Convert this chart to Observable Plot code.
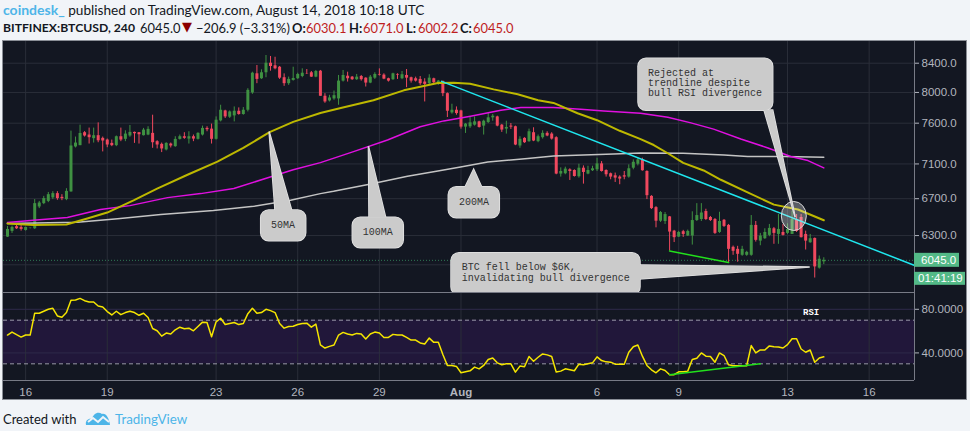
<!doctype html>
<html><head><meta charset="utf-8">
<script src="https://cdn.jsdelivr.net/npm/d3@7"></script>
<script src="https://cdn.jsdelivr.net/npm/@observablehq/plot@0.6"></script>
<style>
html,body{margin:0;padding:0;background:#f1f4f8;width:970px;height:431px;overflow:hidden}
body{font-family:Lato,"Open Sans",sans-serif;color:#131722;position:relative}
.line{position:absolute;left:3px;white-space:nowrap;font-size:13.65px;line-height:18px}
#l1{top:1px}#l2{top:19px;left:0;width:600px;height:18px;font-size:12.9px}
#l2 span{position:absolute;top:0}
#l1 .who{color:#4db5e8;font-weight:700;font-size:14px}
.b{font-weight:700}
#l2 .first{font-size:12.2px}
.red{color:#bf1e1e}
#l2 .tri{color:#8b0000;font-family:"DejaVu Sans";font-size:13px;top:-1px}
#panel{position:absolute;left:3px;top:41px;width:963px;height:358px;background:#131722;outline:1px solid #8a8e96}
#panel svg{display:block}
#foot{position:absolute;left:3px;top:410px;font-size:13px;line-height:18px;white-space:nowrap}
#foot .tv{position:absolute;left:112px;top:0;color:#4db5e8;font-size:13.4px}
#foot svg{position:absolute;left:82px;top:1px}
</style></head><body>
<div id="l1" class="line"><span class="who">coindesk_</span> published on TradingView.com, August 14, 2018 10:18 UTC</div>
<div id="l2" class="line"><span class="b first" style="left:3px">BITFINEX:BTCUSD, 240</span><span style="left:140px">6045.0</span><span class="tri" style="left:182px">▼</span><span style="left:196px">−206.9 (−3.31%)</span><span class="b" style="left:292px">O:</span><span class="red" style="left:306px">6030.1</span><span class="b" style="left:349px">H:</span><span class="red" style="left:363px">6071.0</span><span class="b" style="left:406px">L:</span><span class="red" style="left:418px">6002.2</span><span class="b" style="left:460px">C:</span><span class="red" style="left:473px">6045.0</span></div>
<div id="panel"></div>
<div id="foot">Created with
<svg width="26" height="16" viewBox="0 0 26 16"><path d="M1 14 C0 9 4 7 7 8 C8 3 13 0 17 3 C21 2 24 7 25 14 Z" fill="#4db5e8"/><path d="M3 11 L8 7 L13 11 L18 6 L24 11" fill="none" stroke="#f1f4f8" stroke-width="2"/></svg>
<span class="tv">TradingView</span></div>
<script>
// Candles, one per 4 hours, 15 Jul 08:00 to 14 Aug 08:00 UTC
const opens = [
6284,6344,6394,6386,6354,6375,6372,6608,6645,6670,
6709,6757,6715,6690,6776,7304,7320,7480,7451,7406,
7443,7410,7389,7348,7320,7430,7398,7439,7484,7480,
7443,7451,7472,7369,7336,7268,7340,7308,7397,7430,
7401,7430,7398,7451,7534,7525,7398,7629,7757,7676,
7693,7753,7711,7766,7993,8253,8185,8267,8400,8364,
8344,8199,8118,8162,8185,8216,8257,8267,8207,8289,
7949,7887,7914,7914,8153,8220,8207,8172,8216,8193,
8126,8193,8244,8235,8185,8172,8244,8185,8230,8199,
8185,8176,8140,8118,8185,8118,8149,7984,7731,7766,
7757,7550,7554,7575,7617,7563,7609,7668,7680,7575,
7525,7563,7555,7316,7410,7369,7480,7369,7418,7472,
7463,7418,6981,6985,7031,7023,6950,7050,6981,7020,
7031,7101,7023,6985,6961,6946,6961,6946,7050,7097,
7148,7011,6726,6601,6453,6450,6500,6347,6284,6341,
6295,6295,6460,6471,6558,6493,6471,6333,6463,6408,
6178,6157,6096,6096,6096,6408,6242,6267,6302,6372,
6312,6333,6323,6312,6471,6493,6312,6225,6270,5967,
6030];
const highs = [
6397,6400,6418,6418,6389,6380,6690,6670,6726,6770,
6779,6779,6745,6813,7500,7426,7575,7494,7538,7538,
7604,7426,7401,7389,7439,7538,7504,7571,7488,7482,
7534,7555,7702,7381,7352,7356,7352,7430,7451,7480,
7492,7451,7480,7563,7555,7588,7680,7831,7766,7757,
7809,7796,7801,8050,8275,8368,8308,8509,8495,8484,
8354,8252,8208,8344,8261,8322,8312,8285,8299,8299,
7984,7962,8019,8230,8299,8275,8216,8244,8230,8199,
8230,8267,8321,8253,8193,8261,8253,8285,8312,8207,
8207,8216,8185,8240,8193,8162,8153,7993,7844,7809,
7766,7596,7672,7680,7625,7638,7723,7711,7689,7584,
7625,7596,7563,7430,7418,7525,7542,7451,7504,7492,
7480,7430,7054,7062,7043,7031,7097,7077,7073,7073,
7168,7128,7031,6993,6993,6961,7011,7089,7148,7168,
7168,7020,6734,6612,6558,6547,6504,6355,6344,6355,
6358,6555,6645,6645,6583,6504,6482,6550,6471,6418,
6191,6188,6188,6137,6514,6450,6323,6372,6418,6386,
6525,6418,6425,6561,6525,6525,6347,6312,6275,6089,
6071];
const lows = [
6281,6323,6365,6347,6347,6370,6365,6590,6634,6656,
6690,6682,6678,6678,6773,7292,7320,7426,7340,7352,
7356,7244,7295,7308,7308,7369,7369,7423,7348,7340,
7439,7443,7288,7280,7236,7256,7292,7300,7389,7398,
7340,7369,7389,7439,7492,7340,7389,7616,7660,7660,
7616,7702,7702,7744,7975,8118,8176,8199,8289,8308,
8176,8082,8095,8153,8176,8199,8244,8203,8199,7949,
7857,7874,7896,7831,8140,8140,8162,8162,8153,8073,
8118,8176,8222,8172,8140,8162,8176,8172,8064,8126,
8140,8095,7874,8105,8118,8095,7944,7672,7715,7702,
7525,7471,7534,7563,7538,7451,7596,7625,7554,7484,
7463,7521,7320,7288,7348,7361,7369,7356,7401,7430,
7389,6973,6946,6973,6907,6946,6934,6865,6973,7011,
7011,7004,6946,6915,6884,6858,6915,6934,7031,7077,
7015,6690,6580,6382,6440,6418,6140,6227,6281,6281,
6291,6201,6450,6450,6460,6450,6312,6323,6386,6023,
6096,6026,6086,6086,6086,6232,6194,6260,6288,6209,
6209,6295,6312,6312,6333,6275,6150,6219,5869,5957,
6002];
const closes = [
6365,6386,6372,6365,6386,6378,6645,6652,6701,6745,
6757,6701,6701,6782,7316,7352,7470,7439,7418,7443,
7380,7377,7328,7320,7430,7389,7463,7484,7467,7455,
7513,7522,7356,7328,7280,7348,7316,7397,7430,7410,
7430,7401,7472,7534,7517,7398,7638,7766,7680,7744,
7753,7711,7766,8028,8261,8176,8267,8400,8354,8322,
8193,8118,8176,8189,8244,8261,8253,8207,8285,7949,
7874,7927,7957,8153,8230,8185,8172,8207,8172,8126,
8207,8244,8235,8180,8153,8253,8235,8240,8193,8153,
8153,8118,8108,8193,8131,8153,7984,7753,7766,7723,
7550,7588,7604,7617,7546,7625,7668,7689,7563,7513,
7546,7550,7328,7398,7356,7492,7377,7430,7472,7439,
7401,6981,7011,7039,7011,6953,7050,7000,7023,7043,
7101,7011,6973,6946,6934,6923,6946,7043,7120,7148,
7020,6734,6590,6453,6547,6525,6337,6278,6333,6312,
6344,6460,6514,6542,6471,6460,6323,6450,6397,6157,
6137,6106,6157,6126,6408,6250,6295,6333,6376,6323,
6365,6302,6365,6471,6344,6278,6242,6267,5979,6056,
6045];
const rsiValues = [
56.4,59.1,56.7,54.5,56.4,56.4,76.4,76.4,78.2,80,
80.9,73.9,72.7,77,88.2,88.5,90,87.9,86.7,86.7,
83,82.1,77.9,74.8,78.2,75.1,77,78.2,77,74.5,
76.4,72.4,62.4,60.3,55.4,58.2,57.3,61.2,63.6,62.1,
62.7,60.3,64.2,68.2,67.9,54.8,68.5,71.8,66,67,
67.9,66,67,76,80.9,76.4,77,80,78.8,77,
67,62.7,64.2,64.5,66,67,67.3,63.6,66.4,47.3,
44.5,46,47.3,56.4,58.8,57.3,56.4,57.9,57.3,52.7,
57.3,59.1,58.2,54.2,54.2,57,56.4,56.4,54.2,51.8,
51.8,49.1,48.2,53.6,49.7,49.7,38.5,28.5,28.5,27.6,
21.8,22.7,23.6,27,25.4,28.5,33.9,35.4,30.9,29.1,
30,30,22.4,27.9,27.3,36.7,32.4,36,39.1,38.2,
36.7,22.4,23.3,25.4,24.5,23.6,29.7,29.1,30,30.9,
36.4,33,31.8,31.5,29.7,29.7,29.7,40.6,45.7,47.3,
37,28.5,24.5,21.8,25.4,23.9,20,20,22.7,22.7,
23.3,33.9,35.1,40,37,36.7,31.5,40,37.6,29.1,
28.2,28.2,28.2,28.2,46.7,40,42.7,42.7,46.4,45.7,
45.4,44.5,47.6,53,53,43.6,40.6,42.7,31.5,35.4,
36.4];

// Moving averages, read at the candle numbers listed
const ma50At = [0,5.7,13,17.6,22,27.8,33,39.7,46.3,52,57.8,63,69,73.5,80.7,87.4,94.9,98.4,102,107.2,112.5,117,120.4,125.7,130,135,139.6,142.5,145.6,149,153.5,157.3,163.2,169,174.3,180];
const ma50Values = [6429,6411,6418,6482,6547,6682,6813,6973,7128,7292,7488,7617,7731,7796,7896,8028,8126,8131,8118,8041,7975,7896,7861,7727,7638,7504,7401,7328,7228,7113,7023,6915,6771,6634,6580,6463];
const ma100At = [0,5.7,13.2,20.5,27,35.3,42.6,49.9,57.4,63,69,76.3,83.8,91,96.2,102.1,108.8,113.2,120.4,126.4,131.5,139.6,145.6,150.7,155.7,161.7,167.7,172.7,176.5,180];
const ma100Values = [6439,6463,6493,6580,6623,6712,6757,6816,6938,7031,7116,7248,7389,7554,7629,7689,7766,7801,7801,7779,7757,7727,7676,7604,7525,7401,7292,7188,7140,7054];
const ma200At = [0,15.4,24.3,33.8,45.4,54.3,62.4,69,71.9,80.1,88.2,94.9,99.9,105.9,114.7,120.4,127,133.7,139.6,149,158,163.2,171.2,180];
const ma200Values = [6429,6443,6479,6525,6569,6616,6682,6757,6783,6867,6957,7016,7064,7124,7165,7196,7208,7220,7232,7228,7208,7188,7188,7181];

// Drawn trendlines
const trendAt = [95.7,199.9], trendPrices = [8149,5996];
const supportAt = [146,159], supportPrices = [6140,6023];
const rsiSupportAt = [146,166], rsiSupportValues = [20,30];

// Axes
const dayTicks = [4,22,46,64,82,130,148,172,190];
const dayLabels = ["16","19","23","26","29","6","9","13","16"];
const monthTicks = [100], monthLabels = ["Aug"];
const priceTicks = [8400,8000,7600,7100,6700,6300];
const priceGridExtra = [6000];
const rsiTicks = [80,40];
const lastPrice = 6045;
const countdown = "01:41:19";

// Annotations: text, and the chart point each pointer marks
const calloutLines = [["50MA"],["100MA"],["200MA"],["Rejected at","trendline despite","bull RSI divergence"],["BTC fell below $6K,","invalidating bull divergence"]];
const calloutTipAt = [57.8,79.7,102.9,173.8,177];
const calloutTipPrice = [7488,7308,7031,6490,5974];
const circleAt = 173.5, circlePrice = 6504;

// Layout of the annotation boxes (pixels within the panel)
const calloutLayout = [
 {box:[257.7,169,45,30.7], base:[[272,169.3],[288.7,169.3]], tx:280, ty:[186.5], anchor:"middle"},
 {box:[349.3,176.3,51,30.4], base:[[366,176.6],[382.7,176.6]], tx:374.7, ty:[193.5], anchor:"middle"},
 {box:[445.3,145.7,51,31], base:[[462,146],[478.7,146]], tx:471, ty:[163.5], anchor:"middle"},
 {box:[635,17.3,134.7,52], base:[[761,69],[769.7,69]], tx:645, ty:[35,45,55], anchor:"start"},
 {box:[448,211.7,189,42], base:[[636.5,224],[636.5,238]], tx:458.7, ty:[229,239.7], anchor:"start"}
];

const bg="#131722", grid="#2a2e39", axisText="#b2b5be", edge="#787b86";
const xDomain = [-0.88,200];
const candles = opens.map((open,i)=>({i,open,high:highs[i],low:lows[i],close:closes[i]}));
const candleColor = d => d.close>=d.open ? "#3f9142" : "#f0485e";
const series = (at,vals)=>at.map((i,k)=>({i,v:vals[k]}));
const sharedStyle = {background:bg,fontFamily:"'Liberation Sans',Arial,sans-serif",fontSize:"11.5px"};
const axisFont = {fontSize:11.5,color:axisText};

function annotations(index,scales){
  const g = d3.create("svg:g");
  const {x,y} = scales;
  g.append("ellipse").attr("cx",x(circleAt)).attr("cy",y(circlePrice)).attr("rx",12.5).attr("ry",14.5)
    .attr("fill","#ffffff").attr("fill-opacity",.3).attr("stroke","#d8d8d8").attr("stroke-width",1);
  calloutLayout.forEach((c,k)=>{
    const tip=[x(calloutTipAt[k]),y(calloutTipPrice[k])];
    const poly=[c.base[0],tip,c.base[1]].map(p=>p.join(",")).join(" ");
    const [bx,by,bw,bh]=c.box;
    for(const pass of [0,1]){
      const sw = pass?0:1.5, col = "#cbcbcb";
      const stroke = pass?"none":"#e4e4e4";
      g.append("rect").attr("x",bx).attr("y",by).attr("width",bw).attr("height",bh).attr("rx",8)
        .attr("fill",col).attr("stroke",stroke).attr("stroke-width",sw);
      g.append("polygon").attr("points",poly).attr("fill",col).attr("stroke",stroke).attr("stroke-width",sw);
    }
    calloutLines[k].forEach((t,n)=>{
      g.append("text").attr("x",c.tx).attr("y",c.ty[n]).attr("text-anchor",c.anchor)
        .attr("font-family","'Liberation Mono','DejaVu Sans Mono',monospace").attr("font-size",10)
        .attr("fill","#333333").text(t);
    });
  });
  // last price and countdown tags in the right axis
  const right = x(xDomain[1]), py = y(lastPrice);
  g.append("rect").attr("x",right).attr("y",py-7).attr("width",45).attr("height",14).attr("fill","#53b987");
  g.append("rect").attr("x",right).attr("y",py+12).attr("width",51).attr("height",13).attr("fill","#53b987");
  g.append("text").attr("x",right+7).attr("y",py+4).attr("text-anchor","start").attr("fill","#fff").attr("font-size",11.5).text(lastPrice.toFixed(1));
  g.append("text").attr("x",right+4).attr("y",py+22.5).attr("text-anchor","start").attr("fill","#fff").attr("font-size",11.5).text(countdown);
  return g.node();
}

const main = Plot.plot({
  width:963,height:251,marginTop:0,marginBottom:0,marginLeft:0,marginRight:52,
  style:sharedStyle,
  x:{domain:xDomain,axis:null},
  y:{type:"log",domain:[5729,8710],axis:null},
  marks:[
    Plot.gridX([...dayTicks,...monthTicks],{stroke:grid,strokeOpacity:1}),
    Plot.gridY([...priceTicks,...priceGridExtra],{stroke:grid,strokeOpacity:1}),
    Plot.ruleY([lastPrice],{stroke:"#2f7a55",strokeDasharray:"1,2"}),
    Plot.ruleX(candles,{x:"i",y1:"low",y2:"high",stroke:candleColor,strokeWidth:1}),
    Plot.ruleX(candles,{x:"i",y1:"open",y2:"close",stroke:candleColor,strokeWidth:3}),
    Plot.line(series(ma200At,ma200Values),{x:"i",y:"v",stroke:"#c4c4c4",strokeWidth:1.5}),
    Plot.line(series(ma100At,ma100Values),{x:"i",y:"v",stroke:"#e010e0",strokeWidth:1.5}),
    Plot.line(series(ma50At,ma50Values),{x:"i",y:"v",stroke:"#bdb800",strokeWidth:2}),
    Plot.line(series(trendAt,trendPrices),{x:"i",y:"v",stroke:"#1fe6ee",strokeWidth:1.5}),
    Plot.line(series(supportAt,supportPrices),{x:"i",y:"v",stroke:"#22e01c",strokeWidth:1.5}),
    Plot.ruleX([xDomain[1]],{stroke:edge}),
    Plot.axisY(priceTicks,{anchor:"right",tickSize:4,tickFormat:()=>"",label:null,...axisFont}),
    Plot.text(priceTicks,{y:d=>d,x:()=>xDomain[1],dx:7,text:d=>d.toFixed(1),textAnchor:"start",fill:axisText,fontSize:11.5}),
    annotations
  ]
});

const rsi = Plot.plot({
  width:963,height:107,marginTop:0,marginBottom:19,marginLeft:0,marginRight:52,
  style:sharedStyle,
  x:{domain:xDomain,axis:null},
  y:{domain:[14.7,95.4],axis:null},
  marks:[
    Plot.rect([{}],{x1:xDomain[0],x2:xDomain[1],y1:30,y2:70,fill:"#21173a"}),
    Plot.gridX([...dayTicks,...monthTicks],{stroke:grid,strokeOpacity:1}),
    Plot.gridY(rsiTicks,{stroke:"#2e2a4a",strokeOpacity:1}),
    Plot.ruleY([30,70],{stroke:"#9a98a8",strokeDasharray:"4,3"}),
    Plot.line(series(rsiValues.map((_,i)=>i),rsiValues),{x:"i",y:"v",stroke:"#f5e600",strokeWidth:1.5}),
    Plot.line(series(rsiSupportAt,rsiSupportValues),{x:"i",y:"v",stroke:"#22e01c",strokeWidth:1.5}),
    Plot.text(["RSI"],{x:177.2,y:77,text:d=>d,fill:"#ffffff",fontFamily:"'Liberation Mono',monospace",fontWeight:"bold",fontSize:9}),
    Plot.ruleY([95.4],{stroke:edge}),
    Plot.ruleY([14.7],{stroke:edge}),
    Plot.ruleX([xDomain[1]],{stroke:edge}),
    Plot.axisY(rsiTicks,{anchor:"right",tickSize:4,tickPadding:3,tickFormat:d=>d.toFixed(4),label:null,...axisFont}),
    Plot.axisX(dayTicks,{anchor:"bottom",tickSize:0,tickPadding:7,tickFormat:d=>dayLabels[dayTicks.indexOf(d)],label:null,...axisFont}),
    Plot.axisX(monthTicks,{anchor:"bottom",tickSize:0,tickPadding:7,tickFormat:d=>monthLabels[monthTicks.indexOf(d)],label:null,fontWeight:"bold",...axisFont})
  ]
});

const panel=document.getElementById("panel");
panel.append(main,rsi);
</script>
</body></html>
